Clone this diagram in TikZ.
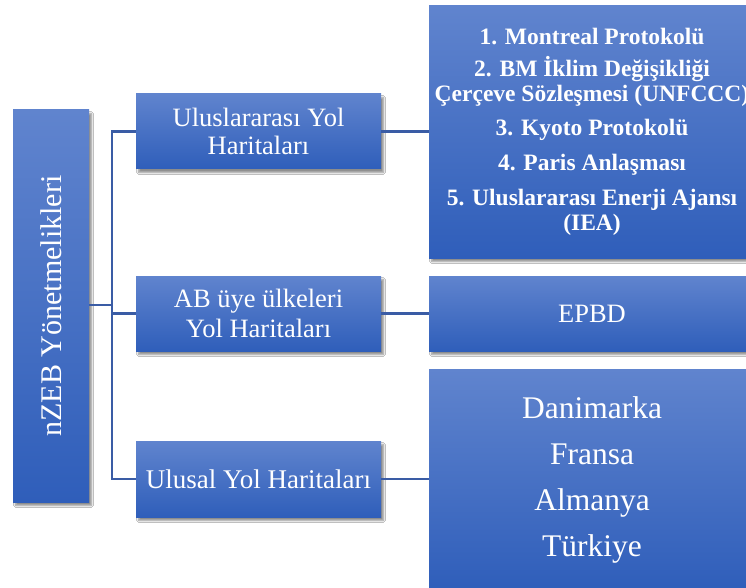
\documentclass[tikz,border=0pt]{standalone}
\usepackage{fontspec}
\setmainfont{Liberation Serif}
\usetikzlibrary{shadows.blur}
\definecolor{topblue}{RGB}{96,132,206}
\definecolor{botblue}{RGB}{47,94,186}
\definecolor{linkblue}{RGB}{58,92,165}
\tikzset{
  box/.style={rectangle, top color=topblue, bottom color=botblue, draw=none,
    text=white, align=center, inner sep=0pt,
    blur shadow={shadow xshift=2.5pt, shadow yshift=-3.5pt, shadow blur steps=6, shadow opacity=45}},
  conn/.style={draw=linkblue, line width=2.6pt}
}
\begin{document}
\begin{tikzpicture}[x=1pt,y=-1pt]
\clip (0,0) rectangle (746,588);
\fill[white] (0,0) rectangle (746,588);
\coordinate (jx) at (112,0);
\node[box, minimum width=76pt, minimum height=392pt] (root) at (51,306)
  {\rotatebox{90}{\fontsize{30}{34}\selectfont nZEB Yönetmelikleri}};
\node[box, minimum width=245pt, minimum height=75pt, font=\fontsize{26.5}{28}\selectfont] (b1) at (258.5,131.5)
  {Uluslararası Yol\\Haritaları};
\node[box, minimum width=245pt, minimum height=75pt, font=\fontsize{26.5}{30}\selectfont] (b2) at (258.5,313.5)
  {AB üye ülkeleri\\Yol Haritaları};
\node[box, minimum width=245pt, minimum height=76pt, font=\fontsize{27}{30}\selectfont] (b3) at (258.5,479)
  {Ulusal Yol Haritaları};
\node[box, minimum width=326pt, minimum height=252pt, font=\bfseries\fontsize{23.5}{25}\selectfont] (r1) at (592,132)
  {1. Montreal Protokolü\\[7pt]2. BM İklim Değişikliği\\Çerçeve Sözleşmesi (UNFCCC)\\[9pt]3. Kyoto Protokolü\\[10pt]4. Paris Anlaşması\\[10pt]5. Uluslararası Enerji Ajansı\\(IEA)};
\node[box, minimum width=326pt, minimum height=75pt, font=\fontsize{26.5}{28}\selectfont] (r2) at (592,313.5)
  {EPBD};
\node[box, minimum width=326pt, minimum height=221pt, font=\fontsize{31.5}{46}\selectfont] (r3) at (592,479.5)
  {Danimarka\\Fransa\\Almanya\\Türkiye};
\draw[conn] (root.east |- 0,305) -- (jx |- 0,305);
\draw[conn] (b1.west) -- (b1.west -| jx) -- (b3.west -| jx) -- (b3.west);
\draw[conn] (b2.west) -- (b2.west -| jx);
\draw[conn] (b1.east) -- (b1.east -| r1.west);
\draw[conn] (b2.east) -- (b2.east -| r2.west);
\draw[conn] (b3.east) -- (b3.east -| r3.west);
\end{tikzpicture}
\end{document}
